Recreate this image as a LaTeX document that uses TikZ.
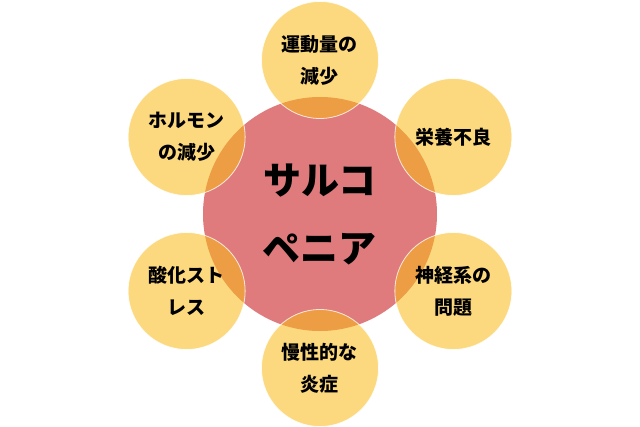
\documentclass[tikz,border=0pt]{standalone}
\usepackage{fontspec}
\newfontfamily\jp{Noto Sans CJK JP}
\definecolor{corered}{RGB}{223,123,125}
\definecolor{petalyellow}{RGB}{249,185,20}

\begin{document}
\begin{tikzpicture}[
    x=1pt, y=1pt,
    core/.style={circle, fill=corered, minimum size=234pt, inner sep=0pt, align=center, font=\jp\bfseries\fontsize{38}{68}\selectfont},
    petal/.style={circle, fill=petalyellow, fill opacity=0.55, text opacity=1, draw=white, draw opacity=0.8, line width=0.8pt, minimum size=117pt, inner sep=0pt, align=center, font=\jp\bfseries\fontsize{19}{32}\selectfont}
]
\useasboundingbox (-320,-212) rectangle (320,214);

% Centre
\node[core] (sarco) at (0,0) {サルコ\\ペニア};

% Causes around it
\node[petal] (exercise) at (90:154) {運動量の\\減少};
\node[petal] (nutrition) at (30:154) {栄養不良};
\node[petal] (nerve) at (-30:154) {神経系の\\問題};
\node[petal] (inflam) at (-90:154) {慢性的な\\炎症};
\node[petal] (oxid) at (210:154) {酸化スト\\レス};
\node[petal] (hormone) at (150:154) {ホルモン\\の減少};

\end{tikzpicture}
\end{document}
